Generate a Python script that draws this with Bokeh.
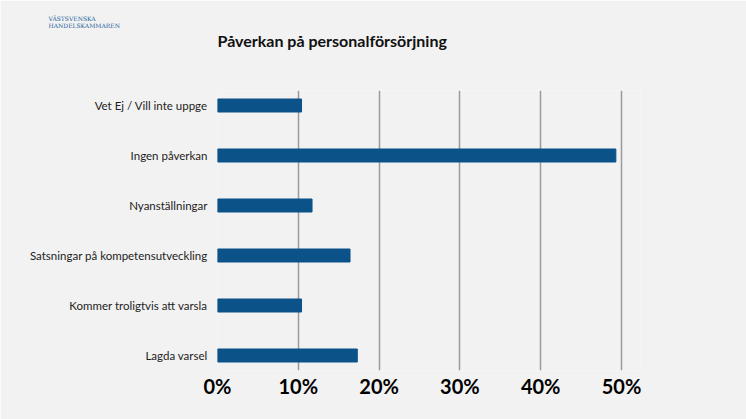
from bokeh.plotting import figure
from bokeh.models import Range1d, FixedTicker, PrintfTickFormatter, Title
from bokeh.embed import file_html
from bokeh.resources import INLINE

categories = ["Lagda varsel", "Kommer troligtvis att varsla",
              "Satsningar på kompetensutveckling", "Nyanställningar",
              "Ingen påverkan", "Vet Ej / Vill inte uppge"]
values = [17.3, 10.4, 16.4, 11.7, 49.3, 10.4]
x_ticks = [0, 10, 20, 30, 40, 50]

BG = "#f2f2f2"
BAR = "#0b5289"

ypos = list(range(len(categories)))

p = figure(width=746, height=419, output_backend="svg", toolbar_location=None,
           title=None,
           x_range=Range1d(0, 52.35), y_range=Range1d(-0.3, 5.3),
           min_border_left=217, min_border_right=106, min_border_top=90,
           min_border_bottom=49)
p.background_fill_color = BG
p.border_fill_color = BG
p.outline_line_color = None

p.hbar(y=ypos, right=values, left=0, height=0.26, color=BAR)

p.ygrid.grid_line_color = None
p.xgrid.ticker = FixedTicker(ticks=x_ticks)
p.xgrid.grid_line_color = "#9a9a9a"
p.xgrid.grid_line_width = 1.5

p.xaxis.ticker = FixedTicker(ticks=x_ticks)
p.xaxis.formatter = PrintfTickFormatter(format="%d%%")
p.xaxis.axis_line_color = None
p.xaxis.major_tick_line_color = None
p.xaxis.minor_tick_line_color = None
p.xaxis.major_tick_out = 0
p.xaxis.major_tick_in = 0
p.xaxis.major_label_standoff = 3
p.xaxis.major_label_text_font = "Lato"
p.xaxis.major_label_text_font_style = "bold"
p.xaxis.major_label_text_font_size = "20px"
p.xaxis.major_label_text_color = "#000000"

p.yaxis.ticker = FixedTicker(ticks=ypos)
p.yaxis.major_label_overrides = {i: c for i, c in zip(ypos, categories)}
p.yaxis.axis_line_color = None
p.yaxis.major_tick_line_color = None
p.yaxis.minor_tick_line_color = None
p.yaxis.major_tick_out = 0
p.yaxis.major_tick_in = 0
p.yaxis.major_label_standoff = 10
p.yaxis.major_label_text_font = "Lato"
p.yaxis.major_label_text_font_size = "11.5px"
p.yaxis.major_label_text_color = "#222222"

spacer = Title(text=" ", align="left", text_font="Lato",
               text_font_size="32px", standoff=0)
heading = Title(text="Påverkan på personalförsörjning", align="left",
                text_font="Lato", text_font_style="bold",
                text_font_size="16px", text_color="#111111", standoff=0)
logo = Title(text="VÄSTSVENSKA\nHANDELSKAMMAREN", align="left", offset=-169,
             text_font="DejaVu Serif", text_font_style="normal",
             text_line_height=1.0,
             text_font_size="6px", text_color="#1f5f9c", standoff=0)
p.add_layout(spacer, "above")
p.add_layout(heading, "above")
p.add_layout(logo, "above")

open("out.html", "w").write(file_html(p, INLINE))
